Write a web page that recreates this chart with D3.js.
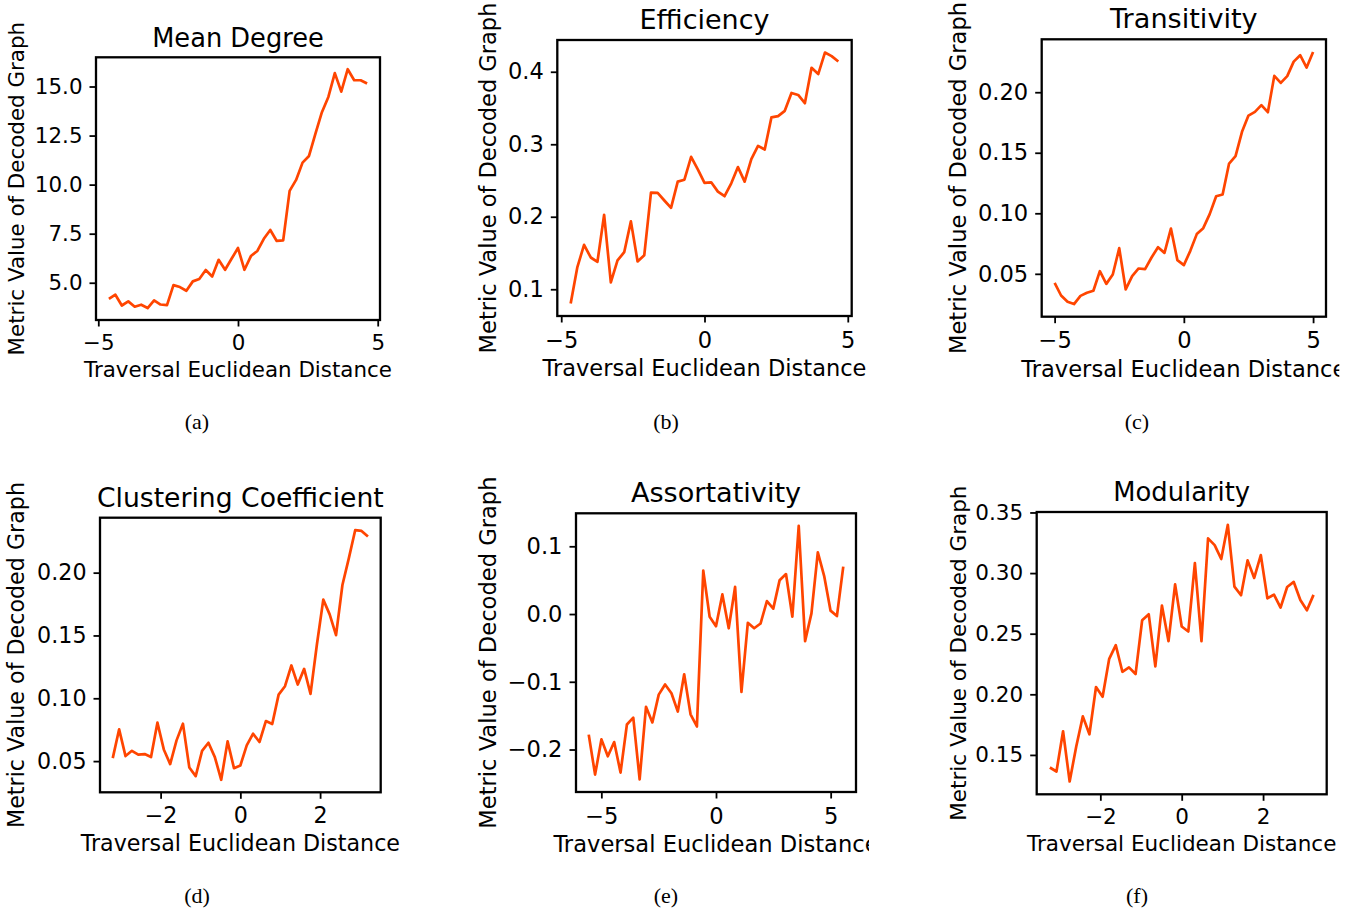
<!DOCTYPE html>
<html><head><meta charset="utf-8">
<script src="https://cdn.jsdelivr.net/npm/d3@7"></script>
<style>
html,body{margin:0;padding:0;background:#fff;}
svg{display:block;}
</style></head><body>
<svg id="chart" width="1367" height="914"></svg>
<script>
// ---------- data ----------
const titles = ["Mean Degree", "Efficiency", "Transitivity", "Clustering Coefficient", "Assortativity", "Modularity"];
const captions = ["(a)", "(b)", "(c)", "(d)", "(e)", "(f)"];
const xLabel = "Traversal Euclidean Distance";
const yLabel = "Metric Value of Decoded Graph";

// traversal range (first and last traversal distance) of each panel
const meanDegreeX = [-4.62, 4.62];
const efficiencyX = [-4.67, 4.67];
const transitivityX = [-5, 5];
const clusteringX = [-3.2, 3.2];
const assortativityX = [-5.55, 5.55];
const modularityX = [-3.24, 3.24];

const meanDegree = [4.18,4.39,3.84,4.05,3.78,3.88,3.71,4.10,3.89,3.86,4.88,4.78,4.59,5.07,5.19,5.65,5.32,6.17,5.66,6.22,6.77,5.66,6.36,6.62,7.24,7.69,7.13,7.16,9.68,10.24,11.12,11.46,12.60,13.69,14.47,15.68,14.74,15.88,15.32,15.32,15.15];
const efficiency = [0.0804,0.1306,0.1612,0.1438,0.1379,0.2027,0.1096,0.1397,0.1511,0.1936,0.1384,0.1470,0.2333,0.2329,0.2224,0.2123,0.2484,0.2511,0.2826,0.2653,0.2466,0.2475,0.2347,0.2283,0.2461,0.2685,0.2484,0.2795,0.2977,0.2927,0.3370,0.3388,0.3461,0.3708,0.3680,0.3566,0.4055,0.3968,0.4265,0.4215,0.4142];
const transitivity = [0.0426,0.0321,0.0269,0.0250,0.0318,0.0343,0.0360,0.0522,0.0417,0.0494,0.0712,0.0371,0.0481,0.0544,0.0539,0.0635,0.0720,0.0673,0.0874,0.0613,0.0572,0.0690,0.0828,0.0877,0.0993,0.1141,0.1155,0.1411,0.1472,0.1673,0.1807,0.1838,0.1893,0.1835,0.2135,0.2077,0.2133,0.2253,0.2306,0.2204,0.2333];
const clustering = [0.0524,0.0753,0.0540,0.0582,0.0551,0.0556,0.0532,0.0806,0.0593,0.0476,0.0665,0.0798,0.0449,0.0380,0.0582,0.0646,0.0532,0.0351,0.0657,0.0444,0.0465,0.0625,0.0718,0.0652,0.0819,0.0795,0.1029,0.1096,0.1261,0.1109,0.1234,0.1035,0.1428,0.1785,0.1668,0.1503,0.1902,0.2114,0.2338,0.2332,0.2287];
const assortativity = [-0.178,-0.237,-0.185,-0.210,-0.189,-0.234,-0.163,-0.153,-0.244,-0.137,-0.160,-0.119,-0.104,-0.117,-0.144,-0.089,-0.148,-0.166,0.064,-0.004,-0.018,0.029,-0.021,0.040,-0.115,-0.013,-0.021,-0.014,0.019,0.008,0.050,0.059,-0.004,0.130,-0.040,0.001,0.091,0.056,0.005,-0.003,0.070];
const modularity = [0.1396,0.1363,0.1695,0.1281,0.1570,0.1818,0.1670,0.2060,0.1980,0.2293,0.2405,0.2186,0.2222,0.2167,0.2611,0.2660,0.2230,0.2732,0.2438,0.2907,0.2559,0.2518,0.3083,0.2438,0.3286,0.3231,0.3116,0.3398,0.2888,0.2817,0.3105,0.2960,0.3149,0.2792,0.2822,0.2715,0.2885,0.2927,0.2778,0.2693,0.2820];

// tick labels
const meanDegreeXTicks = [-5, 0, 5];
const meanDegreeYTicks = [5.0, 7.5, 10.0, 12.5, 15.0];
const efficiencyXTicks = [-5, 0, 5];
const efficiencyYTicks = [0.1, 0.2, 0.3, 0.4];
const transitivityXTicks = [-5, 0, 5];
const transitivityYTicks = [0.05, 0.10, 0.15, 0.20];
const clusteringXTicks = [-2, 0, 2];
const clusteringYTicks = [0.05, 0.10, 0.15, 0.20];
const assortativityXTicks = [-5, 0, 5];
const assortativityYTicks = [-0.2, -0.1, 0.0, 0.1];
const modularityXTicks = [-2, 0, 2];
const modularityYTicks = [0.15, 0.20, 0.25, 0.30, 0.35];

// ---------- layout ----------
const layout = [
  {box:[96, 57.3, 380, 320],      fs:21.4, ylx:16.3,  cap:[197, 429], clip:[0, 0, 450, 460]},
  {box:[557.3, 40, 851.7, 316],   fs:22.5, ylx:488.4, cap:[666, 429], clip:[460, 0, 460, 460]},
  {box:[1041.7, 39.3, 1326, 316.7], fs:22.6, ylx:958.4, cap:[1137, 429], clip:[930, 0, 409.3, 460]},
  {box:[100, 517.7, 380.7, 792.3], fs:22.2, ylx:16.7,  cap:[197, 903], clip:[0, 460, 450, 454]},
  {box:[576, 513.3, 856, 792],    fs:22.6, ylx:488.5, cap:[666, 903], clip:[460, 460, 409, 454]},
  {box:[1036.7, 512, 1326.7, 794.3], fs:21.5, ylx:958,  cap:[1137, 903], clip:[930, 460, 437, 454]}
];

const panels = [
  {y: meanDegree,    xr: meanDegreeX,    xt: meanDegreeXTicks,    yt: meanDegreeYTicks,    yf: ".1f"},
  {y: efficiency,    xr: efficiencyX,    xt: efficiencyXTicks,    yt: efficiencyYTicks,    yf: ".1f"},
  {y: transitivity,  xr: transitivityX,  xt: transitivityXTicks,  yt: transitivityYTicks,  yf: ".2f"},
  {y: clustering,    xr: clusteringX,    xt: clusteringXTicks,    yt: clusteringYTicks,    yf: ".2f"},
  {y: assortativity, xr: assortativityX, xt: assortativityXTicks, yt: assortativityYTicks, yf: ".1f"},
  {y: modularity,    xr: modularityX,    xt: modularityXTicks,    yt: modularityYTicks,    yf: ".2f"}
];

const FONT = "'DejaVu Sans', sans-serif";
const LINE = "#ff4500";
const svg = d3.select("#chart");
const defs = svg.append("defs");

panels.forEach((p, i) => {
  const L = layout[i];
  const [x0, y0, x1, y1] = L.box;
  const fs = L.fs;
  const n = p.y.length;
  const xs = p.y.map((_, k) => p.xr[0] + k * (p.xr[1] - p.xr[0]) / (n - 1));
  const xpad = (p.xr[1] - p.xr[0]) * 0.05;
  const [ymin, ymax] = d3.extent(p.y);
  const ypad = (ymax - ymin) * 0.05;
  const x = d3.scaleLinear().domain([p.xr[0] - xpad, p.xr[1] + xpad]).range([x0, x1]);
  const y = d3.scaleLinear().domain([ymin - ypad, ymax + ypad]).range([y1, y0]);

  defs.append("clipPath").attr("id", "clip" + i).append("rect")
    .attr("x", L.clip[0]).attr("y", L.clip[1]).attr("width", L.clip[2]).attr("height", L.clip[3]);
  const g = svg.append("g").attr("clip-path", `url(#clip${i})`);

  // line
  const line = d3.line().x((d, k) => x(xs[k])).y(d => y(d));
  g.append("path").datum(p.y)
    .attr("d", line).attr("fill", "none")
    .attr("stroke", LINE).attr("stroke-width", 2.7)
    .attr("stroke-linejoin", "round").attr("stroke-linecap", "butt");

  // axes
  const ax = g.append("g").attr("transform", `translate(0,${y1})`)
    .call(d3.axisBottom(x).tickValues(p.xt).tickSize(6.5)
      .tickPadding(0.69 * fs - 6.5).tickFormat(d3.format("d")));
  const ay = g.append("g").attr("transform", `translate(${x0},0)`)
    .call(d3.axisLeft(y).tickValues(p.yt).tickSize(6.5)
      .tickPadding(7).tickFormat(d3.format(p.yf)));
  [ax, ay].forEach(a => {
    a.select(".domain").remove();
    a.attr("font-size", fs).attr("font-family", FONT);
    a.selectAll(".tick line").attr("stroke", "#000").attr("stroke-width", 1.8);
    a.selectAll(".tick text").attr("fill", "#000");
  });

  // frame
  g.append("rect").attr("x", x0).attr("y", y0)
    .attr("width", x1 - x0).attr("height", y1 - y0)
    .attr("fill", "none").attr("stroke", "#000").attr("stroke-width", 2.3);

  // title
  g.append("text").attr("x", (x0 + x1) / 2).attr("y", y0 - 0.49 * fs)
    .attr("text-anchor", "middle").attr("font-family", FONT)
    .attr("font-size", 1.2 * fs).attr("fill", "#000").text(titles[i]);

  // x label
  g.append("text").attr("x", (x0 + x1) / 2).attr("y", y1 + 2.65 * fs)
    .attr("text-anchor", "middle").attr("font-family", FONT)
    .attr("font-size", fs).attr("fill", "#000").text(xLabel);

  // y label
  g.append("text")
    .attr("transform", `translate(${L.ylx},${(y0 + y1) / 2}) rotate(-90)`)
    .attr("dy", "0.35em")
    .attr("text-anchor", "middle").attr("font-family", FONT)
    .attr("font-size", fs).attr("fill", "#000").text(yLabel);

  // caption
  svg.append("text").attr("x", L.cap[0]).attr("y", L.cap[1])
    .attr("text-anchor", "middle")
    .attr("font-family", "'Liberation Serif', 'Times New Roman', serif")
    .attr("font-size", 22).attr("fill", "#000").text(captions[i]);
});
</script>
</body></html>
